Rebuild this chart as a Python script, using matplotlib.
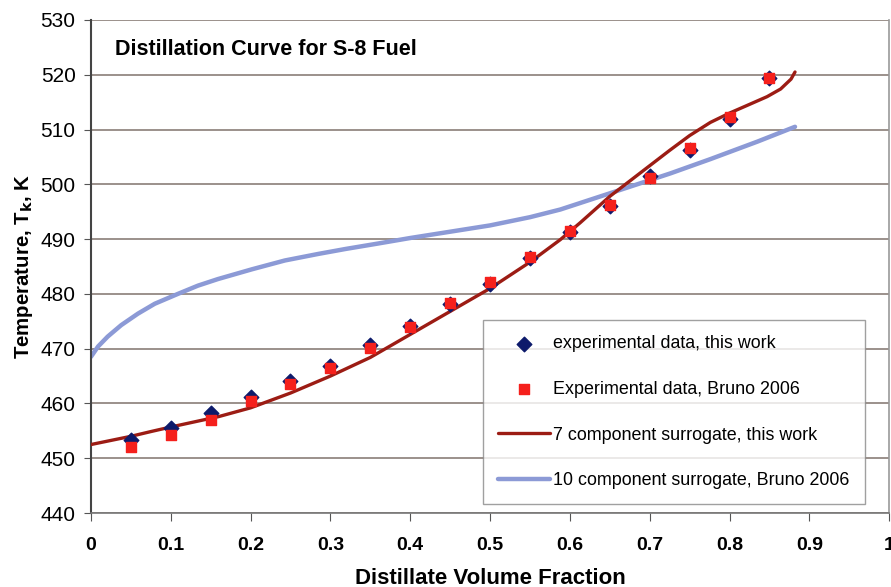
import numpy as np
import matplotlib
matplotlib.use("Agg")
import matplotlib.pyplot as plt

plt.rcParams['font.family'] = ['Liberation Sans', 'DejaVu Sans']

# ------------------------------
# data
# ------------------------------
x_exp = [0.05, 0.10, 0.15, 0.20, 0.25, 0.30, 0.35, 0.40, 0.45, 0.50,
         0.55, 0.60, 0.65, 0.70, 0.75, 0.80, 0.85]
T_this_work = [453.3, 455.6, 458.2, 461.2, 464.1, 466.9, 470.6, 474.1, 478.1, 481.8,
               486.5, 491.3, 496.0, 501.5, 506.2, 511.9, 519.4]
T_bruno = [452.0, 454.3, 457.0, 460.4, 463.5, 466.5, 470.1, 474.0, 478.3, 482.2,
           486.7, 491.5, 496.2, 501.1, 506.6, 512.3, 519.4]

# 7 component surrogate (this work)
x_7comp = [0, 0.05, 0.076, 0.10, 0.16, 0.20, 0.25, 0.30, 0.35, 0.40, 0.45, 0.50, 0.55,
           0.588, 0.613, 0.65, 0.70, 0.725, 0.75, 0.776, 0.80, 0.822, 0.847,
           0.864, 0.877, 0.882]
T_7comp = [452.5, 454.0, 454.9, 455.7, 457.6, 459.2, 461.9, 465.0, 468.4, 472.6, 476.8, 481.0,
           485.8, 489.9, 493.0, 497.8, 503.4, 506.2, 508.9, 511.3, 513.0, 514.4, 516.0,
           517.4, 519.2, 520.5]

# 10 component surrogate (Bruno 2006)
x_10comp = [0, 0.009, 0.021, 0.038, 0.059, 0.08, 0.109, 0.134, 0.159, 0.202, 0.243,
            0.285, 0.319, 0.36, 0.40, 0.50, 0.55, 0.588, 0.653, 0.726, 0.776, 0.835, 0.882]
T_10comp = [468.5, 470.4, 472.2, 474.3, 476.4, 478.2, 480.0, 481.5, 482.7, 484.5, 486.1,
            487.3, 488.2, 489.2, 490.2, 492.5, 494.0, 495.4, 498.5, 502.0, 504.6, 507.8, 510.5]

x_ticks = np.arange(0, 1.01, 0.1)
x_tick_labels = ['0', '0.1', '0.2', '0.3', '0.4', '0.5', '0.6', '0.7', '0.8', '0.9', '1']
y_ticks = np.arange(440, 531, 10)

# ------------------------------
# figure
# ------------------------------
fig = plt.figure(figsize=(8.91, 5.87), dpi=100)
ax = fig.add_axes([0.102, 0.126, 0.896, 0.840])

for yt in y_ticks:
    ax.axhline(yt, color='#8a7e78', lw=1.2, zorder=0)

ax.plot(x_10comp, T_10comp, color='#8c9ad6', lw=3.2, solid_capstyle='round',
        label='10 component surrogate, Bruno 2006', zorder=2)
ax.plot(x_7comp, T_7comp, color='#9c1c14', lw=2.4, solid_capstyle='round',
        label='7 component surrogate, this work', zorder=3)
ax.scatter(x_exp, T_this_work, marker='D', s=55, color='#0d1a6b',
           label='experimental data, this work', zorder=4)
ax.scatter(x_exp, T_bruno, marker='s', s=55, color='#f5201c',
           label='Experimental data, Bruno 2006', zorder=5)

ax.set_xlim(0, 1)
ax.set_ylim(440, 530)
ax.set_xticks(x_ticks)
ax.set_xticklabels(x_tick_labels, fontsize=14, fontweight='bold')
ax.set_yticks(y_ticks)
ax.tick_params(axis='y', labelsize=15, direction='out', length=5, color='#555555', pad=6)
ax.tick_params(axis='x', direction='out', length=6, color='#555555', pad=11)

ax.spines['top'].set_visible(False)
ax.spines['left'].set_color('#444444')
ax.spines['left'].set_linewidth(1.5)
ax.spines['bottom'].set_color('#777777')
ax.spines['bottom'].set_linewidth(1.2)
ax.spines['right'].set_color('#999999')
ax.spines['right'].set_linewidth(1.2)

ax.set_xlabel('Distillate Volume Fraction', fontsize=16, fontweight='bold', labelpad=10)
ax.set_ylabel('Temperature, T$_\\mathbf{k}$, K', fontsize=14.7, fontweight='bold', labelpad=4)

ax.text(0.030, 0.94, 'Distillation Curve for S-8 Fuel', transform=ax.transAxes,
        fontsize=15.5, fontweight='bold', va='center', ha='left')

handles, labels = ax.get_legend_handles_labels()
order = [2, 3, 1, 0]
leg = ax.legend([handles[i] for i in order], [labels[i] for i in order],
                loc='upper left', bbox_to_anchor=(0.4906, 0.3915),
                fontsize=12.9, frameon=True, fancybox=False, edgecolor='#888888',
                handlelength=2.9, handletextpad=0.2, labelspacing=1.6,
                borderpad=0.85, borderaxespad=0)
leg.get_frame().set_linewidth(1.0)

fig.savefig('out.png', dpi=100)
